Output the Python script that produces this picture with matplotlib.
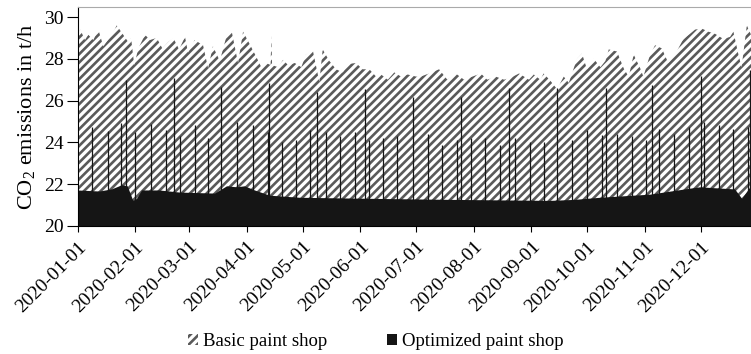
import datetime as dt
import numpy as np
import matplotlib
matplotlib.use("Agg")
import matplotlib.pyplot as plt
import matplotlib.dates as mdates
from matplotlib.patches import Patch

plt.rcParams['font.family'] = ['Liberation Serif', 'DejaVu Serif']
plt.rcParams['hatch.linewidth'] = 1.9

# days after 2020-01-01 and CO2 (t/h)
basic_day = [0, 1.5, 4.0, 5.8, 8.5, 11.2, 13.9, 18.4, 21.1, 24.6, 27.3, 28.8, 30.5, 32.7,
             36.3, 39.0, 42.6, 45.6, 48.8, 51.5, 54.6, 57.8, 59.4, 63.0, 67.5, 70.2, 72.8,
             76.5, 80.0, 82.7, 86.3, 89.0, 92.6, 96.1, 98.8, 101.5, 103.8, 104.2, 104.6,
             107.8, 110.5, 113.2, 116.8, 120.3, 122.8, 126.4, 130.0, 131.8, 135.4, 139.0,
             142.6, 145.3, 149.7, 153.3, 156.9, 160.5, 163.2, 166.8, 170.3, 173.9, 177.5,
             182.0, 184.5, 189.0, 194.4, 198.8, 203.3, 207.8, 212.3, 216.8, 220.3, 224.8,
             229.3, 232.9, 237.4, 242.7, 245.3, 248.8, 250.6, 254.2, 257.8, 261.4, 264.1,
             268.5, 271.2, 273.9, 277.5, 281.1, 283.8, 285.6, 290.0, 293.6, 296.3, 299.0,
             302.5, 304.2, 307.8, 310.5, 314.1, 317.6, 321.2, 323.9, 325.7, 329.3, 332.0,
             335.6, 339.1, 342.7, 347.2, 350.8, 352.6, 355.3, 357.0, 359.8, 362.1]
basic_top = [29.05, 29.4, 28.9, 29.15, 28.9, 29.4, 28.6, 29.15, 29.6, 29.15, 28.8, 29.0, 27.7, 28.5,
             29.15, 28.9, 29.0, 28.5, 28.8, 29.0, 28.45, 29.05, 28.3, 28.9, 28.65, 27.55, 28.6,
             27.9, 29.05, 29.4, 27.8, 29.3, 28.7, 28.1, 27.6, 27.8, 27.7, 29.1, 27.7,
             27.6, 27.95, 27.7, 27.8, 27.6, 28.2, 28.45, 26.9, 28.45, 27.9, 27.5,
             27.35, 27.75, 27.8, 27.5, 27.5, 27.15, 27.25, 27.0, 27.35, 27.15, 27.25,
             27.15, 27.15, 27.3, 27.5, 27.0, 27.3, 27.0, 27.15, 27.3, 27.0, 27.15,
             27.0, 27.1, 27.3, 27.0, 27.25, 27.0, 27.3, 26.95, 26.55, 27.15, 26.85,
             28.0, 28.25, 27.5, 28.0, 27.6, 27.9, 28.45, 28.35, 27.55, 27.15, 28.2,
             27.55, 27.15, 28.2, 28.65, 28.5, 27.8, 28.2, 28.65, 28.95, 29.2, 29.4,
             29.45, 29.3, 29.2, 28.95, 29.05, 29.3, 28.2, 27.6, 29.6, 29.15]

opt_day = [0, 12, 18.5, 24, 27, 30, 32, 34.7, 44, 55, 74, 80.4, 85.8, 90, 95.4, 103.5,
           119.6, 157, 200, 254, 267.5, 281, 308, 326.6, 334.7, 353.5, 357.3, 362.1]
opt_base = [21.7, 21.65, 21.75, 21.95, 21.9, 21.2, 21.3, 21.7, 21.7, 21.6, 21.55, 21.9, 21.85,
            21.9, 21.7, 21.45, 21.35, 21.3, 21.25, 21.2, 21.25, 21.35, 21.5, 21.75, 21.85,
            21.75, 21.3, 21.9]

spike_day = [8.0, 16.2, 23.2, 26.1, 30.9, 39.4, 47.4, 52.0, 55.1, 63.2, 70.3, 77.0, 85.9, 94.2,
             102.3, 103.1, 110.1, 117.3, 125.0, 128.9, 133.4, 141.1, 149.2, 154.8, 156.9,
             164.1, 171.9, 180.5, 188.3, 196.1, 203.9, 206.0, 211.4, 219.1, 227.2, 232.2,
             235.2, 243.3, 251.0, 258.0, 266.0, 274.1, 282.2, 284.0, 290.2, 298.0, 305.5,
             309.0, 312.8, 320.9, 328.9, 335.2, 337.0, 345.1, 352.3, 360.3, 361.6]
spike_val = [24.75, 24.56, 24.91, 27.0, 24.5, 24.9, 24.6, 27.07, 24.3, 24.83, 24.2, 26.67, 24.99,
             24.83, 24.5, 26.83, 24.03, 24.1, 24.6, 26.43, 24.5, 24.3, 24.5, 26.55, 24.1,
             24.2, 24.3, 26.19, 24.4, 23.9, 24.1, 26.19, 24.2, 24.2, 23.9, 26.6,
             24.2, 24.0, 24.0, 26.6, 24.1, 24.6, 24.35, 26.6, 24.4, 24.3, 24.1,
             26.75, 24.65, 24.4, 24.75, 27.2, 25.0, 24.85, 24.65, 24.75, 27.45]

t0 = mdates.date2num(dt.datetime(2020, 1, 1))
bx = t0 + np.array(basic_day)
ox = t0 + np.array(opt_day)
sx = t0 + np.array(spike_day)

fig = plt.figure(figsize=(7.51, 3.54), dpi=100)
ax = fig.add_axes([0.1032, 0.3616, 0.8968, 0.6186])

ax.fill_between(bx, 20, basic_top, facecolor='white', edgecolor='#5a5a5a',
                hatch='////', linewidth=0)
ax.fill_between(ox, 20, opt_base, facecolor='#151515', linewidth=0)
ax.vlines(sx, 20, spike_val, color='#151515', linewidth=0.9)

ax.set_xlim(t0, t0 + 362.05)
ax.set_ylim(20, 30.48)
ax.set_yticks([20, 22, 24, 26, 28, 30])
ax.xaxis.set_major_locator(mdates.MonthLocator())
ax.xaxis.set_major_formatter(mdates.DateFormatter('%Y-%m-%d'))
for lbl in ax.get_xticklabels():
    lbl.set_rotation(45)
    lbl.set_ha('right')
    lbl.set_rotation_mode('anchor')
ax.tick_params(labelsize=14, width=0.8, direction='out')
ax.tick_params(axis='x', length=4, pad=5)
ax.tick_params(axis='y', length=8, pad=2)
ax.spines['right'].set_visible(False)
ax.spines['top'].set_color('#aaaaaa')
ax.set_ylabel('CO$_\\mathregular{2}$ emissions in t/h', fontsize=16, labelpad=4)

handles = [Patch(facecolor='white', edgecolor='#5a5a5a', hatch='////', linewidth=0),
           Patch(facecolor='#151515', linewidth=0)]
fig.legend(handles, ['Basic paint shop', 'Optimized paint shop'], loc='center',
           bbox_to_anchor=(0.5, 0.035), ncol=2, frameon=False, fontsize=13.5,
           handlelength=0.55, handleheight=0.6, handletextpad=0.25, columnspacing=3.2)

fig.savefig('out.png', dpi=100)
